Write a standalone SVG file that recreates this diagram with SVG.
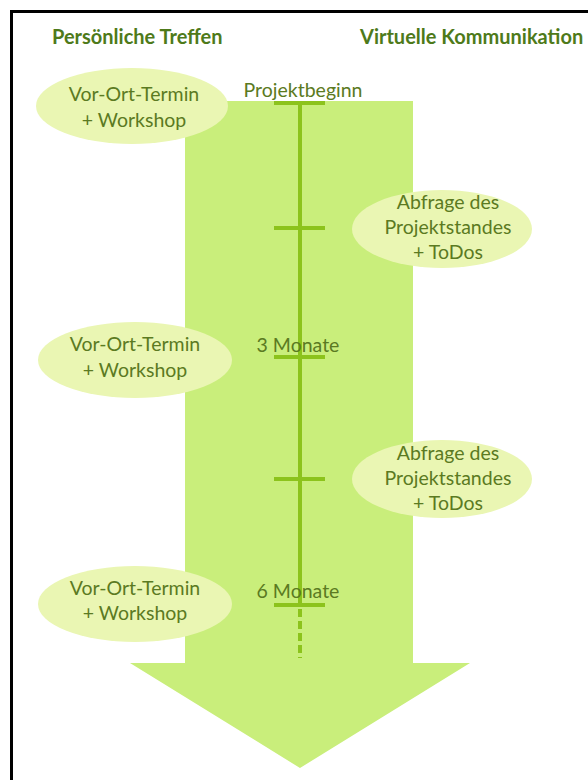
<svg xmlns="http://www.w3.org/2000/svg" width="588" height="780" viewBox="0 0 588 780">
<style>
.hdr{font-family:Lato,"Open Sans","Liberation Sans",sans-serif;font-weight:bold;font-size:20px;fill:#4e7a1a}
.lbl{font-family:Lato,"Open Sans","Liberation Sans",sans-serif;font-size:19.5px;fill:#5b7a22;text-anchor:middle}
.ell{fill:#eaf6b3}
.tl{stroke:#8cc31c;stroke-width:4;fill:none}
</style>
<rect x="0" y="0" width="588" height="780" fill="#ffffff"/>
<path d="M11.5 780 V11.5 H588" fill="none" stroke="#000" stroke-width="3"/>
<g id="arrow">
<path d="M185 101 H413 V663 H470 L300 768 L130 663 H185 Z" fill="#c9ee7b"/>
</g>
<g id="connectors">
<line class="tl" x1="300" y1="101" x2="300" y2="607"/>
<line class="tl" x1="300" y1="609" x2="300" y2="658" stroke-dasharray="8,4"/>
<line class="tl" x1="274" y1="103" x2="325" y2="103"/>
<line class="tl" x1="274" y1="228" x2="325" y2="228"/>
<line class="tl" x1="274" y1="357" x2="325" y2="357"/>
<line class="tl" x1="274" y1="479" x2="325" y2="479"/>
<line class="tl" x1="274" y1="605" x2="325" y2="605"/>
</g>
<g id="headers">
<text class="hdr" x="52" y="44">Persönliche Treffen</text>
<text class="hdr" x="360" y="44">Virtuelle Kommunikation</text>
</g>
<g id="milestones">
<text class="lbl" x="303" y="97">Projektbeginn</text>
<text class="lbl" x="298" y="352">3 Monate</text>
<text class="lbl" x="298" y="598">6 Monate</text>
</g>
<g id="treffen1">
<ellipse class="ell" cx="132" cy="106" rx="96" ry="38"/>
<text class="lbl" x="134" y="101">Vor-Ort-Termin</text>
<text class="lbl" x="134" y="127">+ Workshop</text>
</g>
<g id="treffen2">
<ellipse class="ell" cx="135" cy="360" rx="97" ry="38"/>
<text class="lbl" x="135" y="351">Vor-Ort-Termin</text>
<text class="lbl" x="135" y="377">+ Workshop</text>
</g>
<g id="treffen3">
<ellipse class="ell" cx="135" cy="604" rx="97" ry="38"/>
<text class="lbl" x="135" y="595">Vor-Ort-Termin</text>
<text class="lbl" x="135" y="620">+ Workshop</text>
</g>
<g id="virtuell1">
<ellipse class="ell" cx="442" cy="229" rx="90" ry="39"/>
<text class="lbl" x="448" y="209">Abfrage des</text>
<text class="lbl" x="448" y="234">Projektstandes</text>
<text class="lbl" x="448" y="259">+ ToDos</text>
</g>
<g id="virtuell2">
<ellipse class="ell" cx="442" cy="479" rx="90" ry="39"/>
<text class="lbl" x="448" y="460">Abfrage des</text>
<text class="lbl" x="448" y="485">Projektstandes</text>
<text class="lbl" x="448" y="510">+ ToDos</text>
</g>
</svg>
